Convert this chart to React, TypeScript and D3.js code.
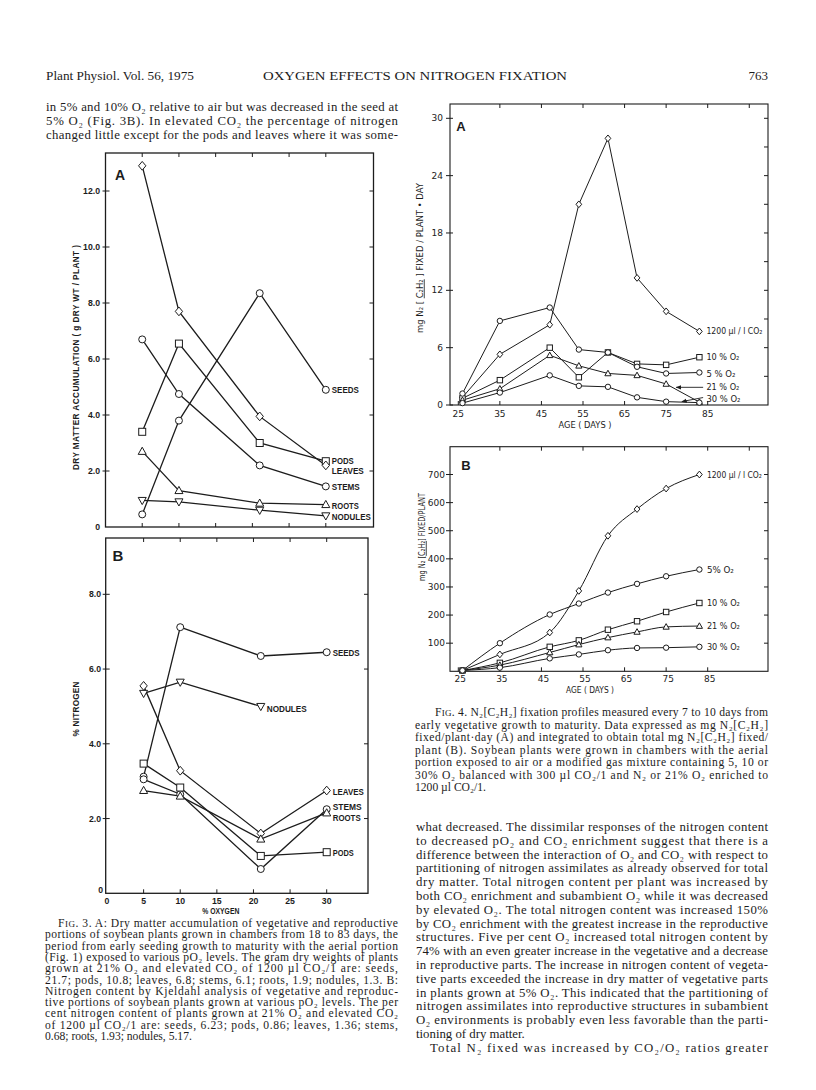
import React from 'react';
import * as d3 from 'd3';

// ---------- Fig. 3 data (x = % oxygen) ----------
const oxygenPercent = [5, 10, 21, 30];
const dmSeeds = [0.45, 3.8, 8.35, 4.9];
const dmPods = [3.4, 6.55, 3.0, 2.35];
const dmLeaves = [12.9, 7.7, 3.95, 2.2];
const dmStems = [6.7, 4.75, 2.2, 1.45];
const dmRoots = [2.7, 1.3, 0.85, 0.8];
const dmNodules = [0.95, 0.9, 0.6, 0.4];

const nSeeds = [3.12, 7.12, 6.35, 6.45];
const nPods = [3.47, 2.83, 1.0, 1.1];
const nLeaves = [5.55, 3.28, 1.6, 2.75];
const nStems = [3.05, 2.65, 0.65, 2.25];
const nRoots = [2.75, 2.6, 1.45, 2.15];
const nNodulesOxygen = [5, 10, 21];
const nNodules = [5.35, 5.65, 5.0];

const fig3XTicks = [0, 5, 10, 15, 20, 25, 30];
const fig3XInnerTicks = [5, 10, 15, 20, 25, 30];
const fig3AYTicks = [0, 2, 4, 6, 8, 10, 12];
const fig3BYTicks = [0, 2, 4, 6, 8];

// ---------- Fig. 4 data (x = age in days) ----------
const ageDays = [26, 35, 47, 54, 61, 68, 75, 83];
const rateCO2 = [0.8, 5.3, 8.4, 21.0, 27.9, 13.3, 9.8, 7.7];
const rate5 = [1.2, 8.8, 10.2, 5.8, 5.5, 4.0, 3.3, 3.4];
const rate10 = [0.7, 2.6, 6.0, 2.9, 5.5, 4.3, 4.2, 5.0];
const rate21 = [0.5, 1.7, 5.2, 4.1, 3.3, 3.1, 2.2, 0.3];
const rate30 = [0.2, 1.3, 3.1, 2.0, 1.9, 0.8, 0.35, 0.25];

const totalCO2 = [3, 60, 138, 286, 482, 577, 650, 700];
const total5 = [3, 100, 202, 241, 280, 311, 338, 362];
const total10 = [3, 30, 87, 110, 148, 178, 211, 243];
const total21 = [3, 22, 67, 95, 120, 140, 158, 161];
const total30 = [3, 13, 46, 60, 75, 83, 84, 87];

const fig4XTicks = [25, 35, 45, 55, 65, 75, 85];
const fig4TopTicks = [35, 45, 55, 65, 75, 85, 95];
const fig4AYTicks = [0, 6, 12, 18, 24, 30];
const fig4AYMinorTicks = [3, 6, 9, 12, 15, 18, 21, 24, 27, 30];
const fig4BYTicks = [100, 200, 300, 400, 500, 600, 700];

// ---------- Text ----------
const headerLeft = 'Plant Physiol. Vol. 56, 1975';
const headerTitle = 'OXYGEN EFFECTS ON NITROGEN FIXATION';
const headerPage = '763';

const leftTopLines = [
  'in 5% and 10% O₂ relative to air but was decreased in the seed at',
  '5% O₂ (Fig. 3B). In elevated CO₂ the percentage of nitrogen',
  'changed little except for the pods and leaves where it was some-',
];

const fig3CaptionFirst = '. 3. A: Dry matter accumulation of vegetative and reproductive';
const fig3CaptionLines = [
  'portions of soybean plants grown in chambers from 18 to 83 days, the',
  'period from early seeding growth to maturity with the aerial portion',
  '(Fig. 1) exposed to various pO₂ levels. The gram dry weights of plants',
  'grown at 21% O₂ and elevated CO₂ of 1200 µl CO₂/1 are: seeds,',
  '21.7; pods, 10.8; leaves, 6.8; stems, 6.1; roots, 1.9; nodules, 1.3. B:',
  'Nitrogen content by Kjeldahl analysis of vegetative and reproduc-',
  'tive portions of soybean plants grown at various pO₂ levels. The per',
  'cent nitrogen content of plants grown at 21% O₂ and elevated CO₂',
  'of 1200 µl CO₂/1 are: seeds, 6.23; pods, 0.86; leaves, 1.36; stems,',
  '0.68; roots, 1.93; nodules, 5.17.',
];

const fig4CaptionFirst = '. 4. N₂[C₂H₂] fixation profiles measured every 7 to 10 days from';
const fig4CaptionLines = [
  'early vegetative growth to maturity. Data expressed as mg N₂[C₂H₂]',
  'fixed/plant·day (A) and integrated to obtain total mg N₂[C₂H₂] fixed/',
  'plant (B). Soybean plants were grown in chambers with the aerial',
  'portion exposed to air or a modified gas mixture containing 5, 10 or',
  '30% O₂ balanced with 300 µl CO₂/1 and N₂ or 21% O₂ enriched to',
  '1200 µl CO₂/1.',
];

const rightBodyLines = [
  'what decreased. The dissimilar responses of the nitrogen content',
  'to decreased pO₂ and CO₂ enrichment suggest that there is a',
  'difference between the interaction of O₂ and CO₂ with respect to',
  'partitioning of nitrogen assimilates as already observed for total',
  'dry matter. Total nitrogen content per plant was increased by',
  'both CO₂ enrichment and subambient O₂ while it was decreased',
  'by elevated O₂. The total nitrogen content was increased 150%',
  'by CO₂ enrichment with the greatest increase in the reproductive',
  'structures. Five per cent O₂ increased total nitrogen content by',
  '74% with an even greater increase in the vegetative and a decrease',
  'in reproductive parts. The increase in nitrogen content of vegeta-',
  'tive parts exceeded the increase in dry matter of vegetative parts',
  'in plants grown at 5% O₂. This indicated that the partitioning of',
  'nitrogen assimilates into reproductive structures in subambient',
  'O₂ environments is probably even less favorable than the parti-',
  'tioning of dry matter.',
  'Total N₂ fixed was increased by CO₂/O₂ ratios greater',
];

// ---------- styling ----------
const SERIF = '"Liberation Serif", "Times New Roman", serif';
const SANS = '"Liberation Sans", Arial, sans-serif';
const LEROY = '"DejaVu Sans", "Liberation Sans", sans-serif';
const INK = '#1c1c1c';

type Kind = 'circle' | 'square' | 'diamond' | 'tri' | 'tridown';

function Marker({ kind, cx, cy, s }: { kind: Kind; cx: number; cy: number; s: number }) {
  const c = { fill: '#fff', stroke: INK, strokeWidth: 1 };
  if (kind === 'circle') return <circle cx={cx} cy={cy} r={s} {...c} />;
  if (kind === 'square') return <rect x={cx - s} y={cy - s} width={2 * s} height={2 * s} {...c} />;
  if (kind === 'diamond')
    return <polygon points={`${cx},${cy - s * 1.25} ${cx + s * 1.05},${cy} ${cx},${cy + s * 1.25} ${cx - s * 1.05},${cy}`} {...c} />;
  if (kind === 'tri')
    return <polygon points={`${cx},${cy - s * 1.2} ${cx + s * 1.15},${cy + s * 0.85} ${cx - s * 1.15},${cy + s * 0.85}`} {...c} />;
  return <polygon points={`${cx},${cy + s * 1.2} ${cx + s * 1.15},${cy - s * 0.85} ${cx - s * 1.15},${cy - s * 0.85}`} {...c} />;
}

type S = { xs: number[]; ys: number[]; kind: Kind };

function SeriesLayer({ series, x, y, s, sw, curve }: { series: S[]; x: any; y: any; s: number; sw: number; curve?: any }) {
  const line = d3.line<[number, number]>().curve(curve || d3.curveLinear);
  return (
    <g>
      {series.map((se, i) => {
        const pts = se.xs.map((d, j) => [x(d), y(se.ys[j])] as [number, number]);
        return <path key={'l' + i} d={line(pts) || ''} fill="none" stroke={INK} strokeWidth={sw} />;
      })}
      {series.map((se, i) =>
        se.xs.map((d, j) => <Marker key={'m' + i + '-' + j} kind={se.kind} cx={x(d)} cy={y(se.ys[j])} s={s} />)
      )}
    </g>
  );
}

function Frame({ x0, x1, y0, y1, sw }: { x0: number; x1: number; y0: number; y1: number; sw: number }) {
  return <rect x={x0} y={y0} width={x1 - x0} height={y1 - y0} fill="none" stroke={INK} strokeWidth={sw} />;
}

function HTicks({ xs, y, len }: { xs: number[]; y: number; len: number }) {
  return <g>{xs.map((v, i) => <line key={i} x1={v} x2={v} y1={y} y2={y + len} stroke={INK} strokeWidth={1} />)}</g>;
}
function VTicks({ ys, x, len }: { ys: number[]; x: number; len: number }) {
  return <g>{ys.map((v, i) => <line key={i} x1={x} x2={x + len} y1={v} y2={v} stroke={INK} strokeWidth={1} />)}</g>;
}

// ---------- Fig 3A ----------
function Fig3A() {
  const x = d3.scaleLinear().domain([0, 30]).range([105.5, 325.8]);
  const y = d3.scaleLinear().domain([0, 12]).range([527, 191]);
  const X0 = 105.5, X1 = 373.5, Y0 = 153, Y1 = 527;
  const series = [
    { name: 'SEEDS', kind: 'circle' as Kind, v: dmSeeds, dy: 0, w: 27 },
    { name: 'PODS', kind: 'square' as Kind, v: dmPods, dy: 0, w: 22 },
    { name: 'LEAVES', kind: 'diamond' as Kind, v: dmLeaves, dy: 5.5, w: 32 },
    { name: 'STEMS', kind: 'circle' as Kind, v: dmStems, dy: 1, w: 28 },
    { name: 'ROOTS', kind: 'tri' as Kind, v: dmRoots, dy: 1, w: 27 },
    { name: 'NODULES', kind: 'tridown' as Kind, v: dmNodules, dy: 1, w: 39 },
  ];
  return (
    <g>
      <Frame x0={X0} x1={X1} y0={Y0} y1={Y1} sw={1.3} />
      <HTicks xs={fig3XInnerTicks.map(x)} y={Y0} len={4} />
      <HTicks xs={fig3XInnerTicks.map(x)} y={Y1} len={-4} />
      <VTicks ys={fig3AYTicks.filter(d => d > 0).map(y)} x={X0 - 3} len={7} />
      <VTicks ys={fig3AYTicks.filter(d => d > 0).map(y)} x={X1} len={-4} />
      {fig3AYTicks.map((t, i) => (
        <text key={i} x={100} y={y(t)} dy="0.35em" textAnchor="end" fontFamily={SANS} fontWeight="bold" fontSize={8.7} fill={INK}>
          {t === 0 ? '0' : t.toFixed(1)}
        </text>
      ))}
      <text transform="translate(76,357.5) rotate(-90)" textAnchor="middle" dy="0.35em" fontFamily={SANS} fontWeight="bold" fontSize={8.2} textLength={225} lengthAdjust="spacing" fill={INK}>
        DRY MATTER ACCUMULATION ( g DRY WT / PLANT )
      </text>
      <text x={120} y={175} dy="0.35em" textAnchor="middle" fontFamily={SANS} fontWeight="bold" fontSize={14} fill={INK}>A</text>
      <SeriesLayer series={series.map(s => ({ xs: oxygenPercent, ys: s.v, kind: s.kind }))} x={x} y={y} s={3.5} sw={1.3} />
      {series.map((s, i) => (
        <text key={i} x={x(30) + 6} y={y(s.v[s.v.length - 1]) + s.dy} dy="0.35em" fontFamily={SANS} fontWeight="bold" fontSize={8.8} textLength={s.w} lengthAdjust="spacingAndGlyphs" fill={INK}>
          {s.name}
        </text>
      ))}
    </g>
  );
}

// ---------- Fig 3B ----------
function Fig3B() {
  const x = d3.scaleLinear().domain([0, 30]).range([107, 326.7]);
  const y = d3.scaleLinear().domain([0, 8]).range([893.3, 594.3]);
  const X0 = 105.7, X1 = 368, Y0 = 538, Y1 = 893.3;
  const series = [
    { name: 'SEEDS', kind: 'circle' as Kind, xs: oxygenPercent, v: nSeeds, dy: 1, w: 27 },
    { name: 'NODULES', kind: 'tridown' as Kind, xs: nNodulesOxygen, v: nNodules, dy: 2, w: 40 },
    { name: 'LEAVES', kind: 'diamond' as Kind, xs: oxygenPercent, v: nLeaves, dy: 1.5, w: 31 },
    { name: 'STEMS', kind: 'circle' as Kind, xs: oxygenPercent, v: nStems, dy: -2, w: 29 },
    { name: 'ROOTS', kind: 'tri' as Kind, xs: oxygenPercent, v: nRoots, dy: 5, w: 28 },
    { name: 'PODS', kind: 'square' as Kind, xs: oxygenPercent, v: nPods, dy: 1, w: 21 },
  ];
  return (
    <g>
      <Frame x0={X0} x1={X1} y0={Y0} y1={Y1} sw={1.3} />
      <HTicks xs={fig3XInnerTicks.map(x)} y={Y0} len={4} />
      <HTicks xs={fig3XInnerTicks.map(x)} y={Y1} len={-4} />
      <VTicks ys={fig3BYTicks.filter(d => d > 0).map(y)} x={X0 - 3} len={7} />
      <VTicks ys={fig3BYTicks.filter(d => d > 0).map(y)} x={X1} len={-4} />
      {fig3BYTicks.map((t, i) => (
        <text key={i} x={t === 0 ? 103 : 101} y={t === 0 ? y(t) - 3 : y(t)} dy="0.35em" textAnchor="end" fontFamily={SANS} fontWeight="bold" fontSize={8.7} fill={INK}>
          {t === 0 ? '0' : t.toFixed(1)}
        </text>
      ))}
      {fig3XTicks.map((t, i) => (
        <text key={i} x={x(t)} y={901} dy="0.35em" textAnchor="middle" fontFamily={SANS} fontWeight="bold" fontSize={8.7} fill={INK}>
          {t}
        </text>
      ))}
      <text x={x(15) + 4} y={911} dy="0.35em" textAnchor="middle" fontFamily={SANS} fontWeight="bold" fontSize={8.2} textLength={37} lengthAdjust="spacingAndGlyphs" fill={INK}>
        % OXYGEN
      </text>
      <text transform="translate(76,709) rotate(-90)" textAnchor="middle" dy="0.35em" fontFamily={SANS} fontWeight="bold" fontSize={8.2} textLength={55} lengthAdjust="spacing" fill={INK}>
        % NITROGEN
      </text>
      <text x={118} y={556} dy="0.35em" textAnchor="middle" fontFamily={SANS} fontWeight="bold" fontSize={15} fill={INK}>B</text>
      <SeriesLayer series={series.map(s => ({ xs: s.xs, ys: s.v, kind: s.kind }))} x={x} y={y} s={3.5} sw={1.3} />
      {series.map((s, i) => (
        <text key={i} x={x(s.xs[s.xs.length - 1]) + 6} y={y(s.v[s.v.length - 1]) + s.dy} dy="0.35em" fontFamily={SANS} fontWeight="bold" fontSize={8.8} textLength={s.w} lengthAdjust="spacingAndGlyphs" fill={INK}>
          {s.name}
        </text>
      ))}
    </g>
  );
}

// ---------- Fig 4A ----------
function Fig4A() {
  const x = d3.scaleLinear().domain([25, 85]).range([458.3, 707.7]);
  const y = d3.scaleLinear().domain([0, 30]).range([405, 118.3]);
  const X0 = 450, X1 = 768, Y0 = 104, Y1 = 405;
  const series = [
    { name: '1200 µl / l CO₂', kind: 'diamond' as Kind, v: rateCO2, dy: 0, w: 56 },
    { name: '10 % O₂', kind: 'square' as Kind, v: rate10, dy: 0, w: 33 },
    { name: '5 % O₂', kind: 'circle' as Kind, v: rate5, dy: 1, w: 29 },
    { name: '21 % O₂', kind: 'tri' as Kind, v: rate21, dy: -15.5, w: 33 },
    { name: '30 % O₂', kind: 'circle' as Kind, v: rate30, dy: -3.2, w: 34 },
  ];
  const arrows = [
    { from: [83.9, 1.85], to: [77.4, 1.85] },
    { from: [83.9, 0.78], to: [78.8, 0.36] },
  ];
  return (
    <g>
      <defs>
        <marker id="arr" viewBox="0 0 10 10" refX="9" refY="5" markerWidth="6" markerHeight="6" orient="auto">
          <path d="M0,1 L10,5 L0,9 z" fill={INK} />
        </marker>
      </defs>
      <Frame x0={X0} x1={X1} y0={Y0} y1={Y1} sw={1.1} />
      <HTicks xs={fig4TopTicks.map(x)} y={Y0} len={4} />
      <HTicks xs={fig4XTicks.map(x)} y={Y1} len={-4} />
      <VTicks ys={fig4AYTicks.map(y)} x={X0 - 4} len={7} />
      <VTicks ys={fig4AYMinorTicks.map(y)} x={X1} len={-4} />
      {fig4AYTicks.map((t, i) => (
        <text key={i} x={443} y={y(t)} dy="0.35em" textAnchor="end" fontFamily={LEROY} fontSize={9} fill={INK}>{t}</text>
      ))}
      {fig4XTicks.map((t, i) => (
        <text key={i} x={x(t)} y={414} dy="0.35em" textAnchor="middle" fontFamily={LEROY} fontSize={9} fill={INK}>{t}</text>
      ))}
      <text x={585} y={425} dy="0.35em" textAnchor="middle" fontFamily={LEROY} fontSize={8.2} textLength={53} lengthAdjust="spacingAndGlyphs" fill={INK}>AGE ( DAYS )</text>
      <text transform="translate(420,258) rotate(-90)" textAnchor="middle" dy="0.35em" fontFamily={LEROY} fontSize={8} textLength={150} lengthAdjust="spacingAndGlyphs" fill={INK}>
        mg  N₂ [ <tspan textDecoration="underline">C₂H₂</tspan> ] FIXED / PLANT • DAY
      </text>
      <text x={461} y={126} dy="0.35em" textAnchor="middle" fontFamily={SANS} fontWeight="bold" fontSize={13} fill={INK}>A</text>
      <SeriesLayer series={series.map(s => ({ xs: ageDays, ys: s.v, kind: s.kind }))} x={x} y={y} s={2.7} sw={1} />
      {arrows.map((a, i) => (
        <line key={i} x1={x(a.from[0])} y1={y(a.from[1])} x2={x(a.to[0])} y2={y(a.to[1])} stroke={INK} strokeWidth={0.9} markerEnd="url(#arr)" />
      ))}
      {series.map((s, i) => (
        <text key={i} x={x(83) + 7} y={y(s.v[s.v.length - 1]) + s.dy} dy="0.35em" fontFamily={LEROY} fontSize={8.8} textLength={s.w} lengthAdjust="spacingAndGlyphs" fill={INK}>
          {s.name}
        </text>
      ))}
    </g>
  );
}

// ---------- Fig 4B ----------
function Fig4B() {
  const x = d3.scaleLinear().domain([25, 85]).range([458.3, 707.7]);
  const y = d3.scaleLinear().domain([0, 700]).range([671.3, 474.5]);
  const X0 = 450, X1 = 768, Y0 = 446.7, Y1 = 671.3;
  const series = [
    { name: '1200 µl / l CO₂', kind: 'diamond' as Kind, v: totalCO2, w: 55 },
    { name: '5% O₂', kind: 'circle' as Kind, v: total5, w: 27 },
    { name: '10 % O₂', kind: 'square' as Kind, v: total10, w: 33 },
    { name: '21 % O₂', kind: 'tri' as Kind, v: total21, w: 33 },
    { name: '30 % O₂', kind: 'circle' as Kind, v: total30, w: 33 },
  ];
  return (
    <g>
      <Frame x0={X0} x1={X1} y0={Y0} y1={Y1} sw={1.1} />
      <HTicks xs={fig4TopTicks.map(x)} y={Y0} len={4} />
      <HTicks xs={fig4XTicks.map(x)} y={Y1} len={-4} />
      <VTicks ys={fig4BYTicks.map(y)} x={X0 - 4} len={7} />
      <VTicks ys={fig4BYTicks.map(y)} x={X1} len={-4} />
      {fig4BYTicks.map((t, i) => (
        <text key={i} x={445} y={y(t)} dy="0.35em" textAnchor="end" fontFamily={LEROY} fontSize={9} fill={INK}>{t}</text>
      ))}
      {fig4XTicks.map((t, i) => (
        <text key={i} x={x(t) + 2} y={679} dy="0.35em" textAnchor="middle" fontFamily={LEROY} fontSize={9} fill={INK}>{t}</text>
      ))}
      <text x={590} y={690} dy="0.35em" textAnchor="middle" fontFamily={LEROY} fontSize={8.2} textLength={48} lengthAdjust="spacingAndGlyphs" fill={INK}>AGE ( DAYS )</text>
      <text transform="translate(422,537) rotate(-90)" textAnchor="middle" dy="0.35em" fontFamily={LEROY} fontSize={8} textLength={88} lengthAdjust="spacingAndGlyphs" fill={INK}>
        mg N₂ [<tspan textDecoration="underline">C₂H₂</tspan>] FIXED/PLANT
      </text>
      <text x={466} y={465} dy="0.35em" textAnchor="middle" fontFamily={SANS} fontWeight="bold" fontSize={13} fill={INK}>B</text>
      <SeriesLayer series={series.map(s => ({ xs: ageDays, ys: s.v, kind: s.kind }))} x={x} y={y} s={2.7} sw={1} curve={d3.curveMonotoneX} />
      {series.map((s, i) => (
        <text key={i} x={x(83) + 7.5} y={y(s.v[s.v.length - 1])} dy="0.35em" fontFamily={LEROY} fontSize={8.8} textLength={s.w} lengthAdjust="spacingAndGlyphs" fill={INK}>
          {s.name}
        </text>
      ))}
    </g>
  );
}

// ---------- Text blocks ----------
function Line({ x, y, w, size, just, children }: { x: number; y: number; w: number; size: number; just: boolean; children: any }) {
  const extra = just ? { textLength: w, lengthAdjust: 'spacing' } : {};
  return (
    <text x={x} y={y} fontFamily={SERIF} fontSize={size} fill={INK} {...(extra as any)}>
      {children}
    </text>
  );
}

function Header() {
  return (
    <g>
      <text x={46} y={80} fontFamily={SERIF} fontSize={13} textLength={148} lengthAdjust="spacingAndGlyphs" fill={INK}>{headerLeft}</text>
      <text x={263} y={80} fontFamily={SERIF} fontSize={13} textLength={304} lengthAdjust="spacingAndGlyphs" fill={INK}>{headerTitle}</text>
      <text x={768} y={80} textAnchor="end" fontFamily={SERIF} fontSize={13} fill={INK}>{headerPage}</text>
    </g>
  );
}

function LeftTop() {
  return (
    <g>
      {leftTopLines.map((t, i) => (
        <Line key={i} x={46} y={111 + i * 13.8} w={352} size={12.8} just={true}>{t}</Line>
      ))}
    </g>
  );
}

function Fig3Caption() {
  const y0 = 927, lh = 11.3, size = 11.6;
  return (
    <g>
      <Line x={58} y={y0} w={340} size={size} just={true}>
        F<tspan fontSize={size * 0.78}>IG</tspan>{fig3CaptionFirst}
      </Line>
      {fig3CaptionLines.map((t, i) => (
        <Line key={i} x={45} y={y0 + (i + 1) * lh} w={353} size={size} just={i < fig3CaptionLines.length - 1}>{t}</Line>
      ))}
    </g>
  );
}

function Fig4Caption() {
  const y0 = 716, lh = 12.5, size = 11.6;
  return (
    <g>
      <Line x={435} y={y0} w={333} size={size} just={true}>
        F<tspan fontSize={size * 0.78}>IG</tspan>{fig4CaptionFirst}
      </Line>
      {fig4CaptionLines.map((t, i) => (
        <Line key={i} x={415} y={y0 + (i + 1) * lh} w={353} size={size} just={i < fig4CaptionLines.length - 1}>{t}</Line>
      ))}
    </g>
  );
}

function RightBody() {
  const y0 = 831, lh = 13.8;
  return (
    <g>
      {rightBodyLines.map((t, i) => {
        const last = i === rightBodyLines.length - 1;
        const x = last ? 430 : 416;
        const w = last ? 338 : 352;
        return (
          <Line key={i} x={x} y={y0 + i * lh} w={w} size={12.8} just={i !== 15}>{t}</Line>
        );
      })}
    </g>
  );
}

export default function App() {
  return (
    <div style={{ position: 'absolute', left: 0, top: 0, width: 816, height: 1090, background: '#fff' }}>
      <svg width={816} height={1090} viewBox="0 0 816 1090" style={{ display: 'block' }}>
        <rect x={0} y={0} width={816} height={1090} fill="#fff" />
        <Header />
        <LeftTop />
        <Fig3A />
        <Fig3B />
        <Fig3Caption />
        <Fig4A />
        <Fig4B />
        <Fig4Caption />
        <RightBody />
      </svg>
    </div>
  );
}
